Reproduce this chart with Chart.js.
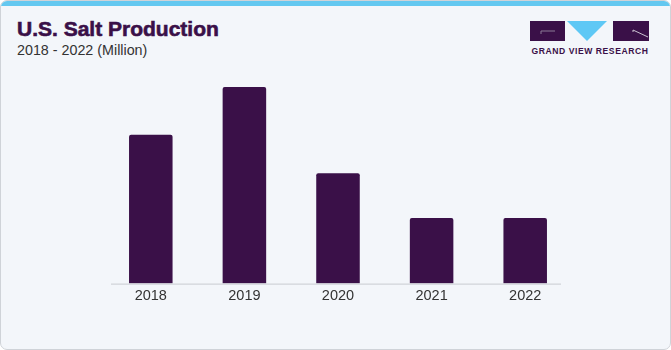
<!DOCTYPE html>
<html>
<head>
<meta charset="utf-8">
<script src="https://cdn.jsdelivr.net/npm/chart.js@4/dist/chart.umd.min.js"></script>
<style>
  html, body { margin: 0; padding: 0; background: #ffffff; }
  #card {
    position: relative; width: 671px; height: 350px; box-sizing: border-box;
    border: 1px solid #cfd3d8; border-radius: 7px; background: #f3f6fa; overflow: hidden;
  }
  #stripe { position: absolute; left: 0; top: 0; width: 100%; height: 5px; background: #64c8f0; }
  #title {
    position: absolute; left: 16px; top: 16px; margin: 0; white-space: nowrap;
    font-family: "Liberation Sans", Arial, sans-serif;
    font-weight: bold; font-size: 21px; line-height: 24px; color: #3a1048;
    -webkit-text-stroke: 0.6px #3a1048;
  }
  #subtitle {
    position: absolute; left: 16px; top: 41.3px; white-space: nowrap;
    font-family: "Liberation Sans", Arial, sans-serif;
    font-size: 14.3px; line-height: 16px; color: #333333;
  }
  #logo { position: absolute; left: 528px; top: 19px; }
  #logotext {
    position: absolute; left: 526px; top: 45px; width: 126px; text-align: center;
    font-family: "Liberation Sans", Arial, sans-serif; font-weight: bold; font-size: 8.6px;
    color: #3a1048; letter-spacing: 0.55px; white-space: nowrap;
  }
  #chartwrap { position: absolute; left: 0; top: 0; width: 671px; height: 350px; }
</style>
</head>
<body>
<div id="card">
  <div id="stripe"></div>
  <div id="title">U.S. Salt Production</div>
  <div id="subtitle">2018 - 2022 (Million)</div>
  <svg id="logo" width="122" height="22" viewBox="0 0 122 22">
    <rect x="1" y="1" width="35" height="20" fill="#3a1048"/>
    <polyline points="26,11 12,11 12,14" fill="none" stroke="#8a7a95" stroke-width="1"/>
    <polygon points="38,1 78,1 58,21" fill="#5ec8f5"/>
    <rect x="84" y="1" width="36" height="20" fill="#3a1048"/>
    <polyline points="119,17 104,10 104,12" fill="none" stroke="#c9c0d0" stroke-width="1"/>
  </svg>
  <div id="logotext">GRAND VIEW RESEARCH</div>
  <div id="chartwrap"><canvas id="c" width="671" height="350"></canvas></div>
</div>
<script>
// Values (relative bar heights, no value axis shown)
const categories = ["2018", "2019", "2020", "2021", "2022"];
const production = [150, 198, 111, 66, 66];
const axisMax = 204;

const baseline = {
  id: 'baseline',
  afterDatasetsDraw(chart) {
    const { ctx, chartArea } = chart;
    ctx.save();
    ctx.strokeStyle = '#c8cbd0';
    ctx.lineWidth = 1;
    ctx.beginPath();
    ctx.moveTo(chartArea.left + 7, chartArea.bottom + 0.5);
    ctx.lineTo(chartArea.right - 11, chartArea.bottom + 0.5);
    ctx.stroke();
    ctx.restore();
  }
};

new Chart(document.getElementById('c'), {
  type: 'bar',
  data: {
    labels: categories,
    datasets: [{
      data: production,
      backgroundColor: '#3a1048',
      borderWidth: 0,
      borderRadius: { topLeft: 2, topRight: 2, bottomLeft: 0, bottomRight: 0 },
      borderSkipped: 'bottom',
      barPercentage: 0.465,
      categoryPercentage: 1.0
    }]
  },
  options: {
    responsive: false,
    animation: false,
    devicePixelRatio: 1,
    layout: { padding: { left: 103, right: 100, top: 80, bottom: 42 } },
    plugins: { legend: { display: false }, tooltip: { enabled: false }, title: { display: false } },
    scales: {
      x: {
        grid: { display: false, drawTicks: false },
        border: { display: false },
        ticks: { color: '#333333', padding: 4, font: { family: '"Liberation Sans", Arial, sans-serif', size: 14.5 } }
      },
      y: {
        display: false,
        min: 0,
        max: axisMax
      }
    }
  },
  plugins: [baseline]
});
</script>
</body>
</html>
